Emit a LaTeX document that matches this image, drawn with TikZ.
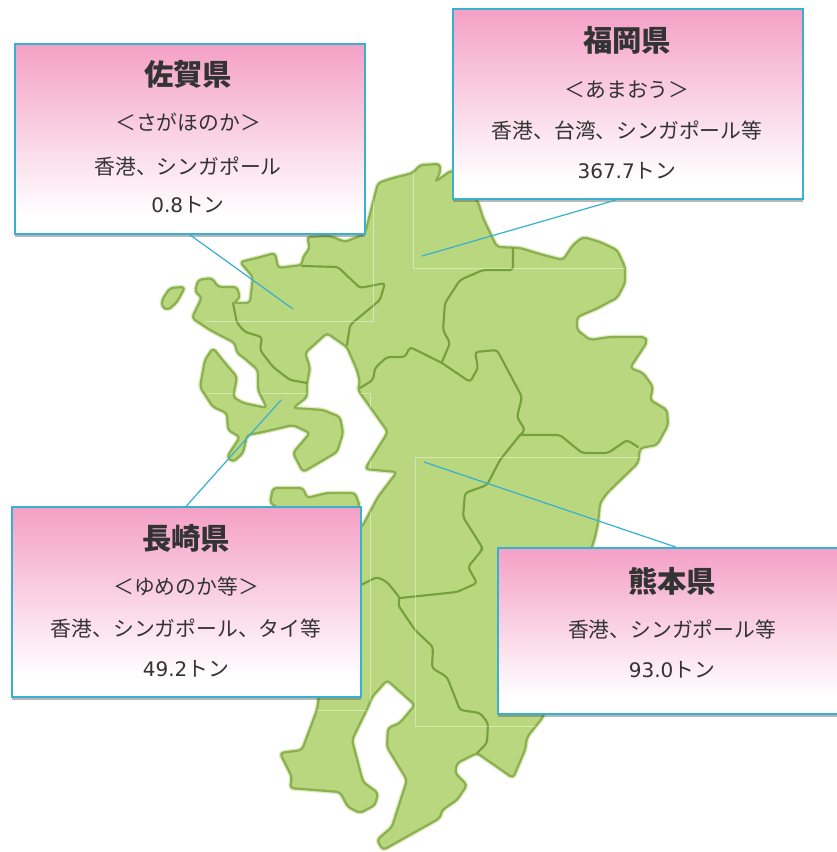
\documentclass[tikz,border=0pt]{standalone}
\usepackage{fontspec}
\setmainfont{Noto Sans CJK JP}
\newfontfamily\latinface{DejaVu Sans}
\usetikzlibrary{shadows}
\definecolor{landfill}{HTML}{B9D77F}
\definecolor{landedge}{HTML}{76A03C}
\definecolor{coastedge}{HTML}{8CB050}
\definecolor{boxedge}{HTML}{38B0CE}
\definecolor{pinktop}{HTML}{F4A0C6}
\definecolor{inktext}{HTML}{333333}
\pgfdeclareverticalshading{pinkfade}{100bp}{color(0bp)=(white);color(30bp)=(white);color(75bp)=(pinktop);color(100bp)=(pinktop)}
\tikzset{
  land/.style={fill=landfill,draw=coastedge,line width=1.7pt,line join=round,rounded corners=2.6pt,
    preaction={draw=landfill!45,line width=3.6pt,line join=round,rounded corners=2.6pt}},
  border/.style={draw=landedge,line width=1.6pt,line join=round,line cap=round,rounded corners=2.4pt},
  faint/.style={draw=white,opacity=.4,line width=.6pt},
  leader/.style={draw=boxedge,line width=.9pt},
  infobox/.style={anchor=north west,inner sep=0pt,draw=boxedge,line width=1.4pt,shading=pinkfade,
    drop shadow={shadow xshift=0pt,shadow yshift=-2.4pt,opacity=.4,fill=black!70}},
  boxtitle/.style={text=inktext,font=\fontsize{22}{24}\selectfont\bfseries,inner sep=0pt},
  boxline/.style={text=inktext,font=\fontsize{15.6}{18}\selectfont,inner sep=0pt},
}
\newcommand{\amount}[1]{{\latinface\fontsize{15}{18}\selectfont #1}}
\newcommand{\kyushupath}{
  (378,183) -- (393,178) -- (413,173) -- (420,165) -- (440,164) -- (440,173) -- (435,182) -- (452,170)
  -- (478,202) -- (483,218) -- (492,237) -- (497,247) -- (520,248) -- (543,255) -- (563,260) -- (573,245)
  -- (583,237) -- (600,242) -- (617,250) -- (625,267) -- (625,283) -- (617,298) -- (607,303) -- (598,308)
  -- (577,317) -- (577,330) -- (590,340) -- (610,337) -- (645,337) -- (647,342) -- (630,368) -- (643,373)
  -- (653,387) -- (650,400) -- (667,410) -- (668,425) -- (657,445) -- (640,448) -- (638,463) -- (607,493)
  -- (600,503) -- (598,523) -- (595,537) -- (575,600) -- (543,717) -- (527,737) -- (525,750) -- (513,778)
  -- (480,755) -- (477,753) -- (457,763) -- (455,773) -- (467,785) -- (457,800) -- (442,810) -- (440,818)
  -- (383,850) -- (377,840) -- (392,827) -- (407,780) -- (387,747) -- (388,728) -- (400,723) -- (415,705)
  -- (387,680) -- (372,697) -- (368,707) -- (352,740) -- (358,763) -- (363,782) -- (378,793) -- (375,805)
  -- (360,813) -- (348,807) -- (340,792) -- (290,788) -- (292,777) -- (280,753) -- (302,750) -- (317,710)
  -- (320,690) -- (340,600) -- (355,530) -- (362,527) -- (378,497) -- (397,472) -- (365,469) -- (388,432)
  -- (358,390) -- (360,382) -- (357,370) -- (347,347) -- (327,333) -- (305,353) -- (310,368) -- (307,383)
  -- (307,397) -- (293,408) -- (323,410) -- (340,417) -- (343,433) -- (337,452) -- (303,472) -- (293,453)
  -- (310,433) -- (293,425) -- (263,432) -- (247,435) -- (243,453) -- (233,462) -- (227,457) -- (240,437)
  -- (228,430) -- (227,413) -- (213,407) -- (200,387) -- (205,360) -- (213,348) -- (225,363) -- (237,377)
  -- (233,397) -- (243,403) -- (267,408) -- (258,390) -- (258,370) -- (243,357) -- (237,353) -- (235,343)
  -- (210,330) -- (192,318) -- (202,297) -- (195,292) -- (198,280) -- (212,278) -- (218,287) -- (237,287)
  -- (240,298) -- (233,303) -- (250,303) -- (253,277) -- (240,262) -- (257,258) -- (275,253) -- (278,268)
  -- (302,265) -- (303,257) -- (310,248) -- (307,237) -- (330,236) -- (345,242) -- (365,234) -- cycle
}
\begin{document}
\begin{tikzpicture}[x=.75pt,y=-.75pt]
\useasboundingbox (0,0) rectangle (837,852);
\clip (0,0) rectangle (837,852);
\fill[white] (0,0) rectangle (837,852);
% the map
\path[land] \kyushupath;
\path[land] (162,300) -- (170,288) -- (185,287) -- (177,302) -- (168,310) -- (162,307) -- cycle;
\path[land] (270,503) -- (273,488) -- (303,488) -- (307,498) -- (327,493) -- (355,493) -- (360,507) -- (300,520) -- cycle;
% prefecture borders
\draw[border] (302,266) -- (338,267) -- (360,288) -- (385,283) -- (380,300) -- (350,325) -- (347,345);
\draw[border] (233,303) -- (237,323) -- (245,332) -- (262,337) -- (260,350) -- (273,367) -- (290,380) -- (307,383);
\draw[border] (513,248) -- (513,270) -- (483,270) -- (460,280) -- (445,303) -- (443,330) -- (450,343) -- (442,362);
\draw[border] (360,388) -- (373,380) -- (375,368) -- (387,357) -- (405,357) -- (410,347) -- (442,363) -- (470,382)
  -- (478,368) -- (475,352) -- (497,350) -- (522,397) -- (517,417) -- (525,430) -- (520,435) -- (500,460)
  -- (487,485) -- (465,493) -- (463,517) -- (482,547) -- (482,550) -- (468,567) -- (477,583) -- (457,592) -- (400,598);
\draw[border] (520,435) -- (560,435) -- (582,453) -- (608,453) -- (627,440) -- (638,447);
\draw[border] (361,585) -- (377,577) -- (387,582) -- (400,598) -- (398,605) -- (415,630) -- (433,647) -- (432,668)
  -- (447,677) -- (460,710) -- (480,713) -- (488,723) -- (487,743) -- (477,753);
% faint image seams over the land
\begin{scope}
\clip \kyushupath;
\draw[faint] (373,160) -- (373,321) -- (205,321);
\draw[faint] (413,170) -- (413,268) -- (625,268);
\draw[faint] (640,457) -- (415,457) -- (415,726) -- (560,726);
\draw[faint] (207,393) -- (370,393) -- (370,710) -- (300,710);
\end{scope}
% end points of the leaders
\coordinate (sagapt) at (293,309);
\coordinate (fukupt) at (422,256);
\coordinate (nagapt) at (281,400);
\coordinate (kumapt) at (424,462);
% boxes
\node[infobox,minimum width=262.5pt,minimum height=142.5pt] (sagabox) at (14,43) {};
\node[infobox,minimum width=262.5pt,minimum height=142.5pt] (fukubox) at (452,8) {};
\node[infobox,minimum width=261.75pt,minimum height=142.5pt] (nagabox) at (11,506) {};
\node[infobox,minimum width=262.5pt,minimum height=124.5pt] (kumabox) at (497,547) {};
% leaders
\draw[leader] (sagabox.south) -- (sagapt);
\draw[leader] ([xshift=-8.6pt]fukubox.south) -- (fukupt);
\draw[leader] (nagabox.north) -- (nagapt);
\draw[leader] ([xshift=2pt]kumabox.north) -- (kumapt);
% texts
\node[boxtitle] (t1) at (188,74) {佐賀県};
\node[boxline] (t2) at (188,122) {＜さがほのか＞};
\node[boxline] (t3) at (188,167) {香港、シンガポール};
\node[boxline] (t4) at (188,205) {\amount{0.8}トン};
\node[boxtitle] (t5) at (627,40) {福岡県};
\node[boxline] (t6) at (627,90) {＜あまおう＞};
\node[boxline] (t7) at (627,131) {香港、台湾、シンガポール等};
\node[boxline] (t8) at (627,171) {\amount{367.7}トン};
\node[boxtitle] (t9) at (186,538) {長崎県};
\node[boxline] (t10) at (186,587) {＜ゆめのか等＞};
\node[boxline] (t11) at (186,628) {香港、シンガポール、タイ等};
\node[boxline] (t12) at (186,669) {\amount{49.2}トン};
\node[boxtitle] (t13) at (672,581) {熊本県};
\node[boxline] (t14) at (672,629) {香港、シンガポール等};
\node[boxline] (t15) at (672,670) {\amount{93.0}トン};
\end{tikzpicture}
\end{document}
